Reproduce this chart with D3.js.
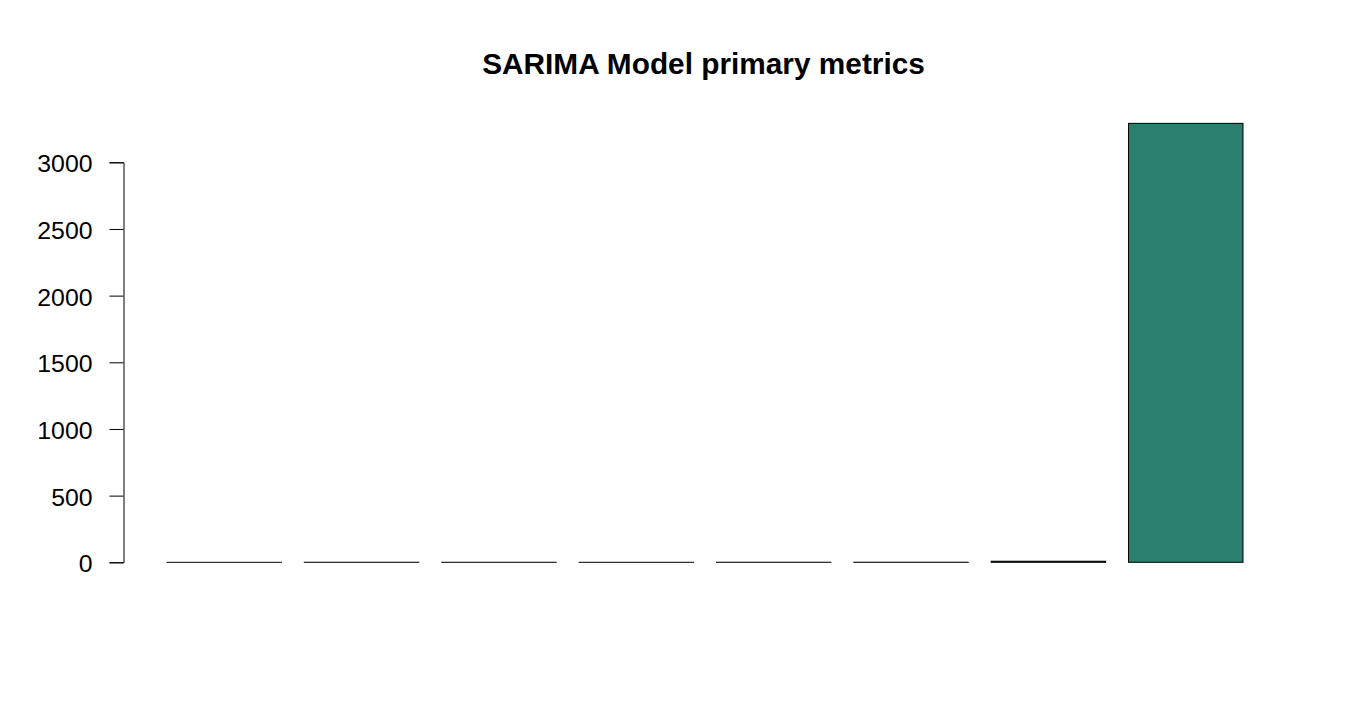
<!DOCTYPE html>
<html>
<head>
<meta charset="utf-8">
<script src="https://cdn.jsdelivr.net/npm/d3@7"></script>
<style>
  body { margin: 0; background: #fff; }
  svg text { font-family: "Liberation Sans", Arial, sans-serif; fill: #000; }
</style>
</head>
<body>
<div id="chart"></div>
<script>
// metric names (not shown on the axis)
var metrics = ['ME', 'RMSE', 'MAE', 'MPE', 'MAPE', 'MASE', 'ACF1', 'AIC'];
var values = [0.02, 0.45, 0.33, 0.1, 0.5, 0.6, 8, 3292];
var yTicks = [0, 500, 1000, 1500, 2000, 2500, 3000];

var width = 1350, height = 720;
var svg = d3.select('#chart')
  .append('svg')
  .attr('width', width)
  .attr('height', height);

// R barplot style: each bar is 1 unit wide with 0.2 units of space before it
var x = d3.scaleLinear().domain([0.2, 9.6]).range([167, 1243]);
var y = d3.scaleLinear().domain([0, 3000]).range([562.3, 162.3]);

svg.append('text')
  .attr('x', 703.5)
  .attr('y', 74)
  .attr('text-anchor', 'middle')
  .style('font-weight', 'bold')
  .style('font-size', '29.8px')
  .text('SARIMA Model primary metrics');

var yAxis = svg.append('g')
  .attr('transform', 'translate(123.5,0)')
  .call(d3.axisLeft(y).tickValues(yTicks).tickSizeOuter(0).tickSize(14).tickPadding(17).tickFormat(d3.format('d')));
yAxis.select('.domain').attr('stroke', '#000').attr('stroke-width', 1);
yAxis.selectAll('.tick line').attr('stroke', '#000');
yAxis.selectAll('.tick text')
  .style('font-size', '24.8px')
  .style('font-family', '"Liberation Sans", Arial, sans-serif')
  .attr('dy', '0.38em');

svg.selectAll('rect.bar')
  .data(values)
  .enter()
  .append('rect')
  .attr('class', 'bar')
  .attr('x', function(d, i) { return x(0.2 + 1.2 * i); })
  .attr('width', function(d, i) { return x(1.2 + 1.2 * i) - x(0.2 + 1.2 * i); })
  .attr('y', function(d) { return y(d); })
  .attr('height', function(d) { return y(0) - y(d); })
  .attr('fill', '#2b7f6d')
  .attr('stroke', '#000')
  .attr('stroke-width', 1);
</script>
</body>
</html>
